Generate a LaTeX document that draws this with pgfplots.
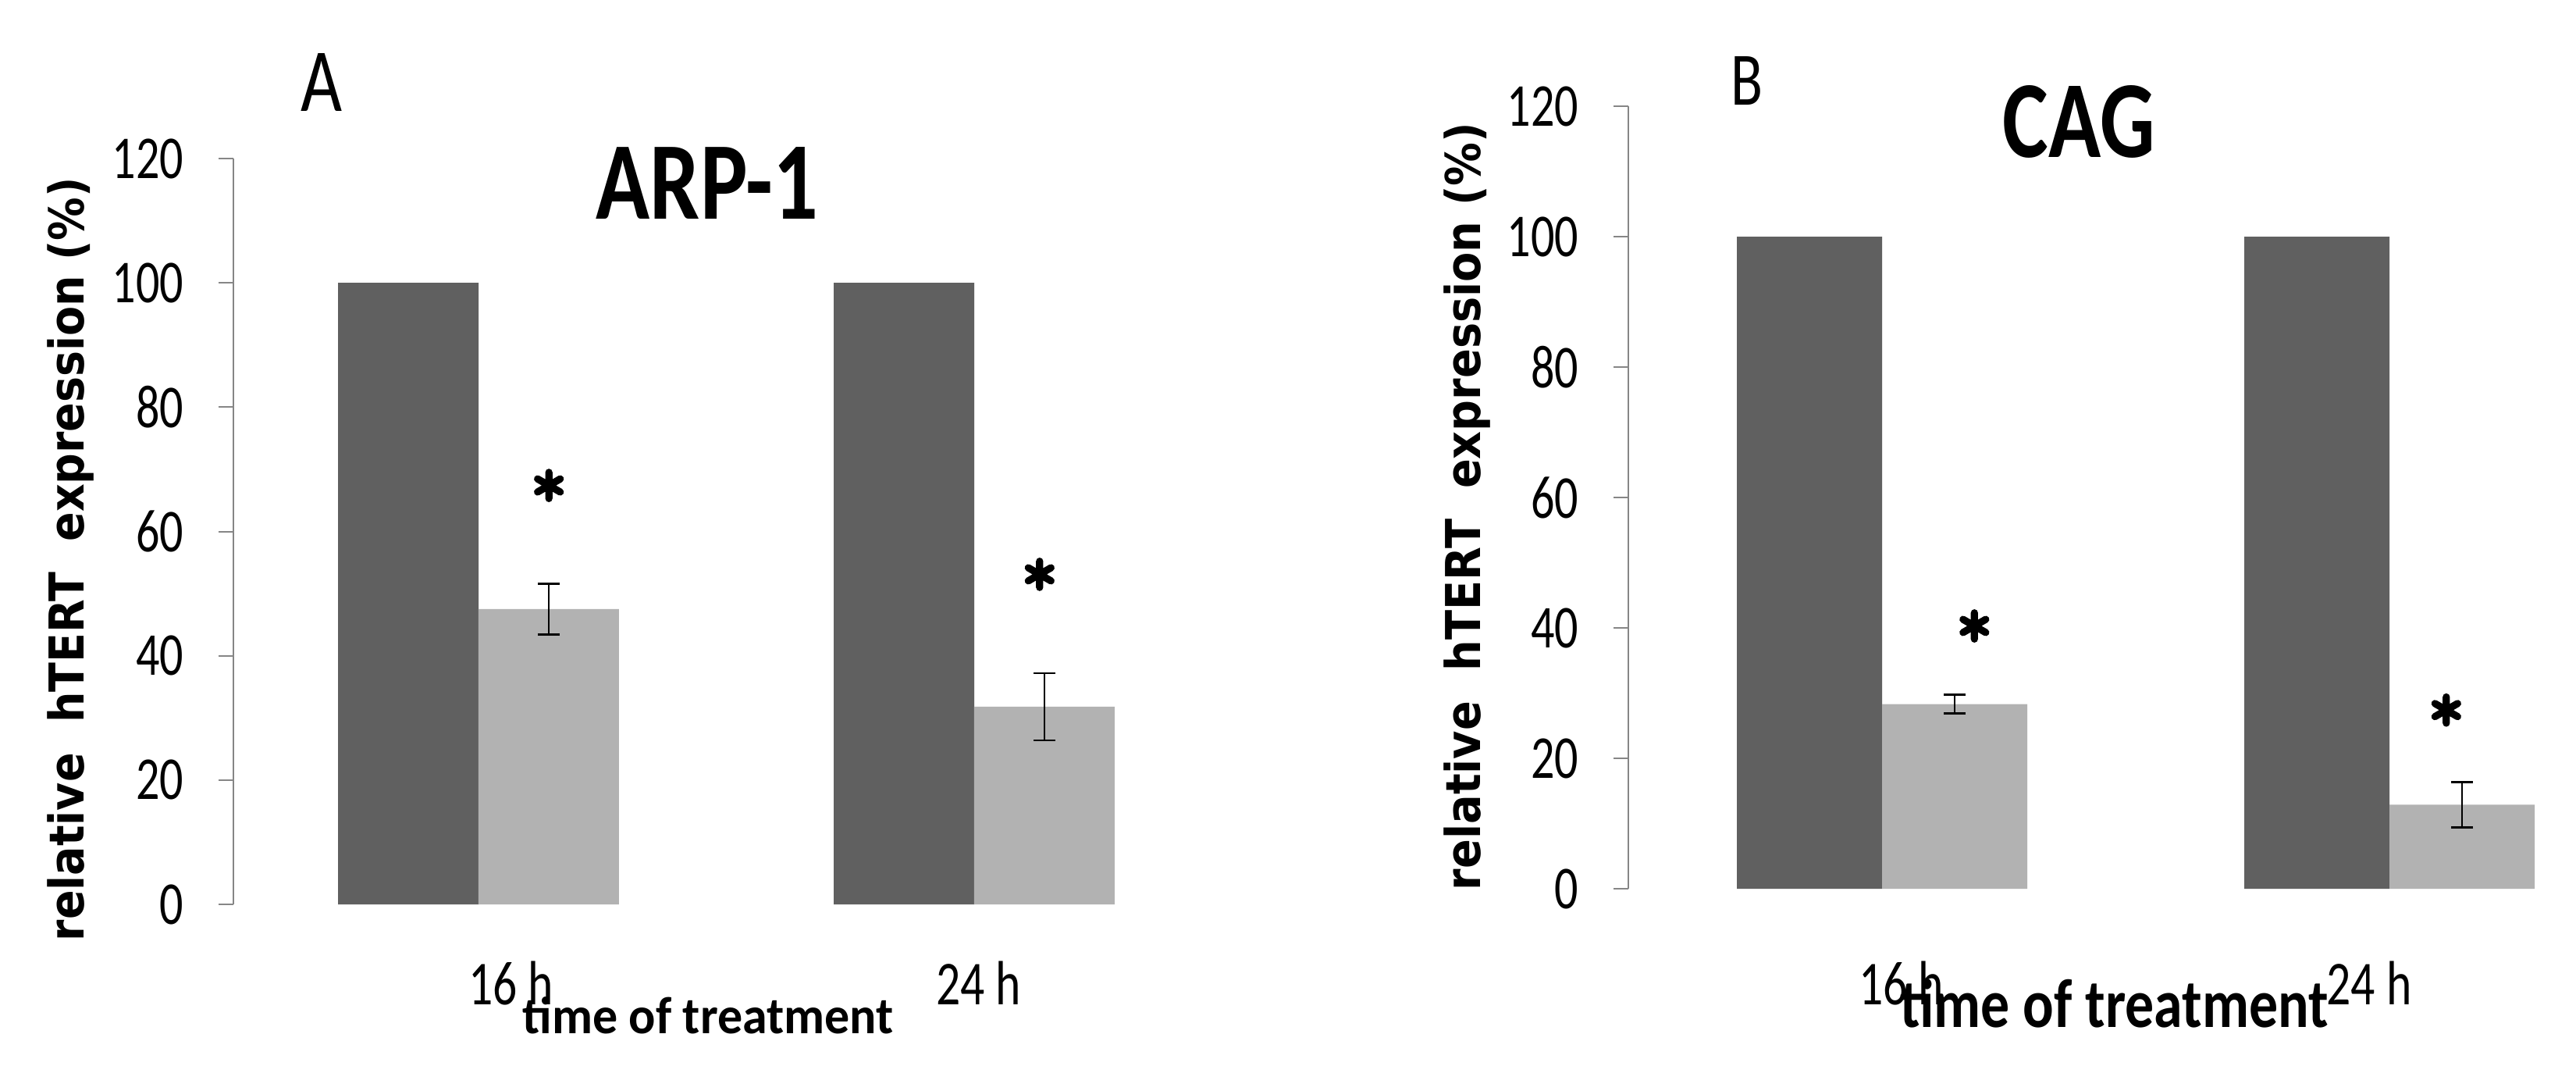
\documentclass[border=0pt]{standalone}
\usepackage{pgfplots}
\pgfplotsset{compat=1.18}
\usepackage{graphicx}
\usepackage{fontspec}
\setmainfont{Carlito}
\newfontfamily\dvfont{DejaVu Sans}
\definecolor{darkbar}{RGB}{96,96,96}
\definecolor{lightbar}{RGB}{178,178,178}
\definecolor{axgray}{RGB}{134,134,134}
\newcommand\cond[1]{\scalebox{0.77}[1]{#1}}
\pgfplotsset{
 panel/.style={
  scale only axis, anchor=south west,
  ymin=0, ymax=120, ytick={0,20,...,120},
  axis lines*=left, axis line style={-},
  x axis line style={draw=none},
  y axis line style={axgray, line width=0.5pt},
  ytick style={axgray, line width=0.5pt},
  xtick style={draw=none},
  tick align=outside, major tick length=4.75pt,
  /pgf/number format/assume math mode=true,
  yticklabel style={font=\fontsize{19.5}{20}\selectfont, anchor=east, inner sep=0pt, xshift=-11pt},
  yticklabel={\cond{\pgfmathprintnumber{\tick}}},
  xticklabel style={font=\fontsize{20}{20}\selectfont, anchor=base, inner sep=0pt},
  ylabel style={anchor=center, inner sep=0pt},
  xlabel style={anchor=base west, inner sep=0pt},
  clip=false,
 },
 errs/.style={error bars/.cd, y dir=both, y explicit,
  error bar style={black, line width=0.7pt},
  error mark options={rotate=90, black, mark size=3.5pt, line width=0.7pt}},
 star/.style={only marks, mark=asterisk, mark size=4.2pt,
  mark options={black, line width=2.3pt, line cap=round}},
}
\begin{document}
\begin{tikzpicture}
\useasboundingbox (0,0) rectangle (825pt,349pt);
% Panel A  (control bars at x-0.1417, treated bars at x+0.1417)
\begin{axis}[panel, at={(74.75pt,59.5pt)}, width=316.625pt, height=238.75pt,
  xmin=0.5055, xmax=2.5, xtick={1.066,2.009}, xticklabels={\cond{16 h},\cond{24 h}},
  xticklabel style={yshift=-27.25pt},
  ylabel={\resizebox{244.5pt}{\height}{\dvfont\fontsize{15.4}{16}\selectfont\bfseries relative\ \ hTERT\ \ expression (\%)}},
  ylabel style={at={(axis description cs:-0.1646,0.4628)}},
  xlabel={\resizebox{118.75pt}{11.75pt}{\bfseries time of treatment}},
  xlabel style={at={(axis description cs:0.2921,-0.1728)}}]
\addplot[ybar, bar width=45pt, bar shift=0pt, fill=darkbar, draw=none] coordinates {(0.8583,100) (1.8583,100)};
\addplot[ybar, bar width=45pt, bar shift=0pt, fill=lightbar, draw=none, errs] coordinates {(1.1417,47.5) +- (0,4.1) (2.1417,31.8) +- (0,5.4)};
\addplot[star] coordinates {(1.142,67.4) (2.132,53.1)};
\end{axis}
% Panel B  (control bars at x-0.1431, treated bars at x+0.1431)
\begin{axis}[panel, at={(521.5pt,64.5pt)}, width=302.25pt, height=250.5pt,
  xmin=0.5, xmax=2.36, xtick={1.038,1.96}, xticklabels={\cond{16 h},\cond{24 h}},
  xticklabel style={yshift=-32.25pt},
  ylabel={\resizebox{245.75pt}{\height}{\dvfont\fontsize{15.4}{16}\selectfont\bfseries relative\ \ hTERT\ \ expression (\%)}},
  ylabel style={at={(axis description cs:-0.1712,0.4885)}},
  xlabel={\resizebox{137pt}{15.5pt}{\bfseries time of treatment}},
  xlabel style={at={(axis description cs:0.2878,-0.1776)}}]
\addplot[ybar, bar width=46.5pt, bar shift=0pt, fill=darkbar, draw=none] coordinates {(0.8569,100) (1.8569,100)};
\addplot[ybar, bar width=46.5pt, bar shift=0pt, fill=lightbar, draw=none, errs] coordinates {(1.1431,28.3) +- (0,1.45) (2.1431,12.9) +- (0,3.45)};
\addplot[star] coordinates {(1.182,40.3) (2.112,27.4)};
\end{axis}
% panel letters and titles
\node[anchor=base west, inner sep=0pt] at (96.25pt,313.25pt) {\resizebox{13.25pt}{18.5pt}{A}};
\node[anchor=base west, inner sep=0pt] at (554.25pt,315.25pt) {\resizebox{10.25pt}{15.5pt}{B}};
\node[anchor=base west, inner sep=0pt] at (190.75pt,279pt) {\resizebox{71pt}{23pt}{\bfseries ARP-1}};
\node[anchor=base west, inner sep=0pt] at (641.25pt,298.5pt) {\resizebox{48.75pt}{23pt}{\bfseries CAG}};
\end{tikzpicture}
\end{document}
